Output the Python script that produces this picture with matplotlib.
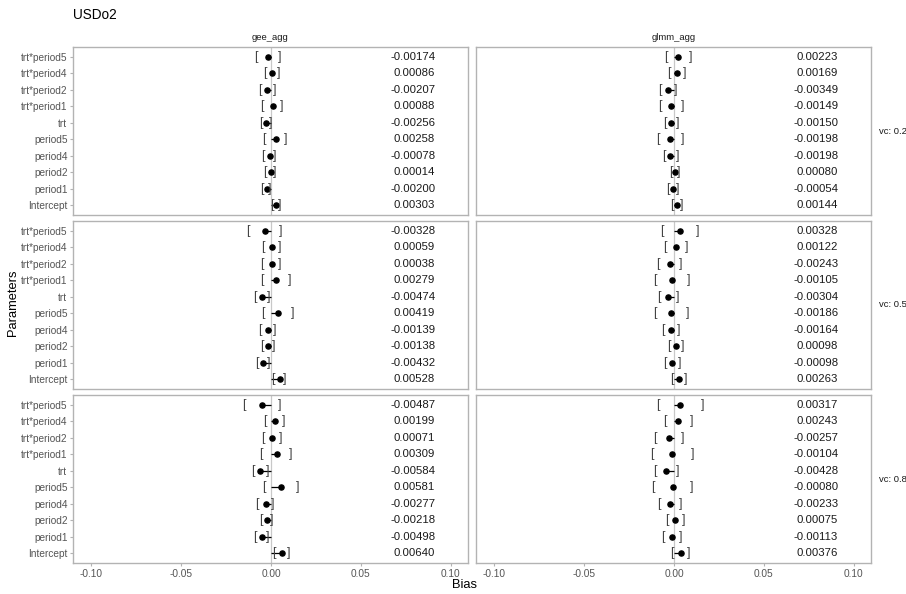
import matplotlib
matplotlib.use("Agg")
import matplotlib.pyplot as plt

plt.rcParams["font.family"] = ["Liberation Sans", "DejaVu Sans"]
plt.rcParams["axes.unicode_minus"] = False

# Parameters, listed from the top row of each panel downwards
params = ["trt*period5", "trt*period4", "trt*period2", "trt*period1", "trt",
          "period5", "period4", "period2", "period1", "Intercept"]
methods = ["gee_agg", "glmm_agg"]
vc_levels = ["vc: 0.2", "vc: 0.5", "vc: 0.8"]
x_ticks = [-0.10, -0.05, 0.00, 0.05, 0.10]
x_tick_labels = ["-0.10", "-0.05", "0.00", "0.05", "0.10"]

# Bias estimates and interval bounds, per method and variance component
gee_02_est = [-0.00174, 0.00086, -0.00207, 0.00088, -0.00256, 0.00258, -0.00078, 0.00014, -0.00200, 0.00303]
gee_02_lo = [-0.0086, -0.0036, -0.0060, -0.0053, -0.0054, -0.0042, -0.0047, -0.0031, -0.0051, 0.0004]
gee_02_hi = [0.0047, 0.0043, 0.0018, 0.0058, -0.0004, 0.0084, 0.0021, 0.0023, -0.0007, 0.0049]

glmm_02_est = [0.00223, 0.00169, -0.00349, -0.00149, -0.00150, -0.00198, -0.00198, 0.00080, -0.00054, 0.00144]
glmm_02_lo = [-0.0046, -0.0027, -0.0077, -0.0079, -0.0053, -0.0088, -0.0057, -0.0019, -0.0034, -0.0014]
glmm_02_hi = [0.0092, 0.0062, 0.0007, 0.0049, 0.0021, 0.0047, 0.0018, 0.0029, 0.0021, 0.0042]

gee_05_est = [-0.00328, 0.00059, 0.00038, 0.00279, -0.00474, 0.00419, -0.00139, -0.00138, -0.00432, 0.00528]
gee_05_lo = [-0.0127, -0.0047, -0.0049, -0.0053, -0.0092, -0.0046, -0.0060, -0.0051, -0.0079, 0.0012]
gee_05_hi = [0.0053, 0.0047, 0.0046, 0.0103, -0.0014, 0.0118, 0.0018, 0.0014, -0.0014, 0.0077]

glmm_05_est = [0.00328, 0.00122, -0.00243, -0.00105, -0.00304, -0.00186, -0.00164, 0.00098, -0.00098, 0.00263]
glmm_05_lo = [-0.0069, -0.0053, -0.0090, -0.0107, -0.0081, -0.0107, -0.0064, -0.0029, -0.0051, -0.0012]
glmm_05_hi = [0.0132, 0.0073, 0.0038, 0.0084, 0.0021, 0.0077, 0.0029, 0.0049, 0.0031, 0.0066]

gee_08_est = [-0.00487, 0.00199, 0.00071, 0.00309, -0.00584, 0.00581, -0.00277, -0.00218, -0.00498, 0.00640]
gee_08_lo = [-0.0151, -0.0036, -0.0047, -0.0057, -0.0101, -0.0042, -0.0079, -0.0058, -0.0092, 0.0018]
gee_08_hi = [0.0049, 0.0068, 0.0054, 0.0110, -0.0016, 0.0147, 0.0008, 0.0003, -0.0016, 0.0097]

glmm_08_est = [0.00317, 0.00243, -0.00257, -0.00104, -0.00428, -0.00080, -0.00233, 0.00075, -0.00113, 0.00376]
glmm_08_lo = [-0.0090, -0.0053, -0.0107, -0.0123, -0.0107, -0.0116, -0.0081, -0.0040, -0.0060, -0.0012]
glmm_08_hi = [0.0158, 0.0101, 0.0049, 0.0104, 0.0021, 0.0101, 0.0036, 0.0054, 0.0040, 0.0082]

panels = [
    [(gee_02_est, gee_02_lo, gee_02_hi), (glmm_02_est, glmm_02_lo, glmm_02_hi)],
    [(gee_05_est, gee_05_lo, gee_05_hi), (glmm_05_est, glmm_05_lo, glmm_05_hi)],
    [(gee_08_est, gee_08_lo, gee_08_hi), (glmm_08_est, glmm_08_lo, glmm_08_hi)],
]

W, H = 906, 594
fig = plt.figure(figsize=(W / 100, H / 100), dpi=100)

col_left = [73, 476]
col_width = 395
row_top = [47, 221, 395]
row_height = 168

border = "#B3B3B3"
tick_grey = "#555555"
n = len(params)
ypos = list(range(n, 0, -1))

for r in range(3):
    for c in range(2):
        est, lo, hi = panels[r][c]
        ax = fig.add_axes([col_left[c] / W, 1 - (row_top[r] + row_height) / H,
                           col_width / W, row_height / H])
        ax.set_xlim(-0.11, 0.1095)
        ax.set_ylim(0.4, n + 0.6)
        ax.axvline(0, color="#C8C8C8", lw=0.9, zorder=1)
        ax.hlines(ypos, 0, est, color="black", lw=0.9, zorder=2)
        ax.plot(est, ypos, "o", color="black", ms=3.7, zorder=3)
        for y, l, h, e in zip(ypos, lo, hi, est):
            ax.text(l, y, "[", ha="center", va="center", fontsize=9,
                    color="#444444", zorder=4)
            ax.text(h, y, "]", ha="center", va="center", fontsize=9,
                    color="#444444", zorder=4)
            ax.text(0.0913, y, f"{e:.5f}", ha="right", va="center",
                    fontsize=8.2, color="#1A1A1A")
        for s in ax.spines.values():
            s.set_color(border)
            s.set_linewidth(1.0)
        ax.set_xticks(x_ticks)
        ax.set_yticks(ypos)
        ax.tick_params(colors=border, length=2.5, width=0.8,
                       labelcolor=tick_grey, labelsize=7.3, pad=1.5)
        if c == 0:
            ax.set_yticklabels(params)
        else:
            ax.tick_params(axis="y", left=False, labelleft=False)
        if r == 2:
            ax.set_xticklabels(x_tick_labels)
        else:
            ax.tick_params(axis="x", bottom=False, labelbottom=False)
        if r == 0:
            ax.text(0.5, 1.03, methods[c], transform=ax.transAxes, ha="center",
                    va="bottom", fontsize=6.8, color="#1A1A1A")
        if c == 1:
            ax.text(1.02, 0.5, vc_levels[r], transform=ax.transAxes, ha="left",
                    va="center", fontsize=6.8, color="#1A1A1A")

fig.text(73 / W, 1 - 15 / H, "USDo2", fontsize=9.8, ha="left", va="center",
         color="black")
fig.text(465 / W, 1 - 585 / H, "Bias", fontsize=9.3, ha="center", va="center",
         color="black")
fig.text(13 / W, 1 - 303 / H, "Parameters", fontsize=9.3, ha="center",
         va="center", rotation=90, color="black")

fig.savefig("out.png", dpi=100)
